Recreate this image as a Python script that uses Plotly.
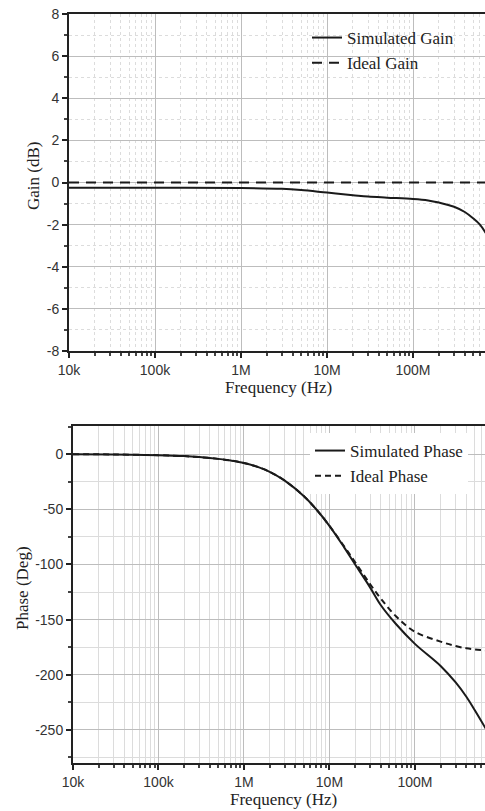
import plotly.graph_objects as go

# ---- data ----
gain_freq = [1e4, 1e5, 1e6, 3e6, 5e6, 1e7, 2e7, 3e7, 5e7, 1e8, 1.5e8, 2e8, 3e8, 4e8, 5e8, 6e8, 7e8]
gain_sim = [-0.25, -0.25, -0.26, -0.30, -0.36, -0.48, -0.60, -0.67, -0.72, -0.78, -0.85, -0.95, -1.15, -1.40, -1.70, -2.00, -2.40]
gain_ideal_freq = [1e4, 7e8]
gain_ideal = [0.0, 0.0]

phase_freq = [1e4, 3e4, 1e5, 2e5, 3e5, 5e5, 7e5, 1e6, 1.5e6, 2e6, 3e6, 5e6, 7e6, 1e7, 1.5e7, 2e7, 3e7, 4e7, 6e7, 1e8, 2e8, 3e8, 4e8, 5e8, 7e8]
phase_sim = [0, -0.3, -1, -1.8, -2.7, -4.3, -5.8, -8, -12, -16, -24, -38, -50, -65, -85, -100, -121, -137, -154, -172, -192, -207, -220, -232, -251]
phase_ideal = [0, -0.3, -1, -1.8, -2.7, -4.3, -5.8, -8, -12, -16, -24, -38, -50, -65, -84, -98, -118, -131, -147, -161, -170, -174, -176, -177, -178]

freq_tickvals = [1e4, 1e5, 1e6, 1e7, 1e8]
freq_ticktext = ["10k", "100k", "1M", "10M", "100M"]
gain_tickvals = [-8, -6, -4, -2, 0, 2, 4, 6, 8]
gain_ticktext = ["-8", "-6", "-4", "-2", "0", "2", "4", "6", "8"]
phase_tickvals = [-250, -200, -150, -100, -50, 0]
phase_ticktext = ["-250", "-200", "-150", "-100", "-50", "0"]

W, H = 485, 811
SERIF = "Liberation Serif, Times New Roman, serif"
SANS = "Liberation Sans, Arial, sans-serif"
INK = "#1a1a1a"


def px_x(p):
    return p / W


def px_y(p):
    return 1 - p / H


fig = go.Figure()

fig.add_trace(go.Scatter(x=gain_freq, y=gain_sim, mode="lines", name="Simulated Gain",
                         line=dict(color=INK, width=2, shape="spline"),
                         xaxis="x", yaxis="y", legend="legend"))
fig.add_trace(go.Scatter(x=gain_ideal_freq, y=gain_ideal, mode="lines", name="Ideal Gain",
                         line=dict(color=INK, width=2, dash="10px,7px"),
                         xaxis="x", yaxis="y", legend="legend"))
fig.add_trace(go.Scatter(x=phase_freq, y=phase_sim, mode="lines", name="Simulated Phase",
                         line=dict(color=INK, width=2, shape="spline"),
                         xaxis="x2", yaxis="y2", legend="legend2"))
fig.add_trace(go.Scatter(x=phase_freq, y=phase_ideal, mode="lines", name="Ideal Phase",
                         line=dict(color=INK, width=2, dash="6px,4px", shape="spline"),
                         xaxis="x2", yaxis="y2", legend="legend2"))

tickfont = dict(family=SANS, size=14, color="#333333")


def xaxis_style(domain, rng, anchor, grid_minor_dash):
    return dict(
        type="log", domain=domain, range=rng, anchor=anchor,
        tickvals=freq_tickvals, ticktext=freq_ticktext,
        ticks="outside", ticklen=5, tickwidth=1.5, tickcolor="#222",
        showline=True, linecolor="#222", linewidth=2, mirror=True,
        showgrid=True, gridcolor="#bdbdbd", gridwidth=1,
        tickfont=tickfont, zeroline=False,
        minor=dict(dtick="D1", ticks="outside", ticklen=3, tickcolor="#444",
                   showgrid=True, gridcolor="#dcdcdc", griddash=grid_minor_dash, gridwidth=1),
        automargin=False,
    )


def yaxis_style(domain, rng, anchor, tickvals, ticktext, minor_dtick, grid_minor_dash):
    return dict(
        domain=domain, range=rng, anchor=anchor,
        tickvals=tickvals, ticktext=ticktext,
        ticks="outside", ticklen=5, tickwidth=1.5, tickcolor="#222",
        showline=True, linecolor="#222", linewidth=2,
        showgrid=True, gridcolor="#bdbdbd", gridwidth=1,
        tickfont=tickfont, zeroline=False,
        minor=dict(dtick=minor_dtick, ticks="outside", ticklen=3, tickcolor="#444",
                   showgrid=True, gridcolor="#dcdcdc", griddash=grid_minor_dash, gridwidth=1),
        automargin=False,
    )


fig.update_layout(
    width=W, height=H,
    margin=dict(l=0, r=0, t=0, b=0),
    paper_bgcolor="white", plot_bgcolor="white",
    xaxis=xaxis_style([px_x(69), 1], [4, 8.837], "y", "dot"),
    yaxis=yaxis_style([px_y(351), px_y(14)], [-8, 8], "x", gain_tickvals, gain_ticktext, 1, "dot"),
    xaxis2=xaxis_style([px_x(73), 1], [4, 8.82], "y2", "solid"),
    yaxis2=yaxis_style([px_y(763), px_y(426)], [-280, 25.5], "x2", phase_tickvals, phase_ticktext, 25, "solid"),
    legend=dict(x=px_x(307), y=px_y(20), xanchor="left", yanchor="top",
                bgcolor="rgba(0,0,0,0)", font=dict(family=SERIF, size=17, color="#222"),
                tracegroupgap=0, itemwidth=30),
    legend2=dict(x=px_x(310), y=px_y(433), xanchor="left", yanchor="top",
                 bgcolor="white", font=dict(family=SERIF, size=17, color="#222"),
                 tracegroupgap=0, itemwidth=30),
    showlegend=True,
)

# axis titles
titles = [
    dict(text="Frequency (Hz)", x=px_x(278), y=px_y(387), textangle=0),
    dict(text="Gain (dB)", x=px_x(33), y=px_y(176), textangle=-90),
    dict(text="Frequency (Hz)", x=px_x(283), y=px_y(799), textangle=0),
    dict(text="Phase (Deg)", x=px_x(22), y=px_y(588), textangle=-90),
]
for t in titles:
    fig.add_annotation(text=t["text"], x=t["x"], y=t["y"], xref="paper", yref="paper",
                       xanchor="center", yanchor="middle", showarrow=False,
                       textangle=t["textangle"],
                       font=dict(family=SERIF, size=17, color="#222"))

fig.write_html("out.html")
